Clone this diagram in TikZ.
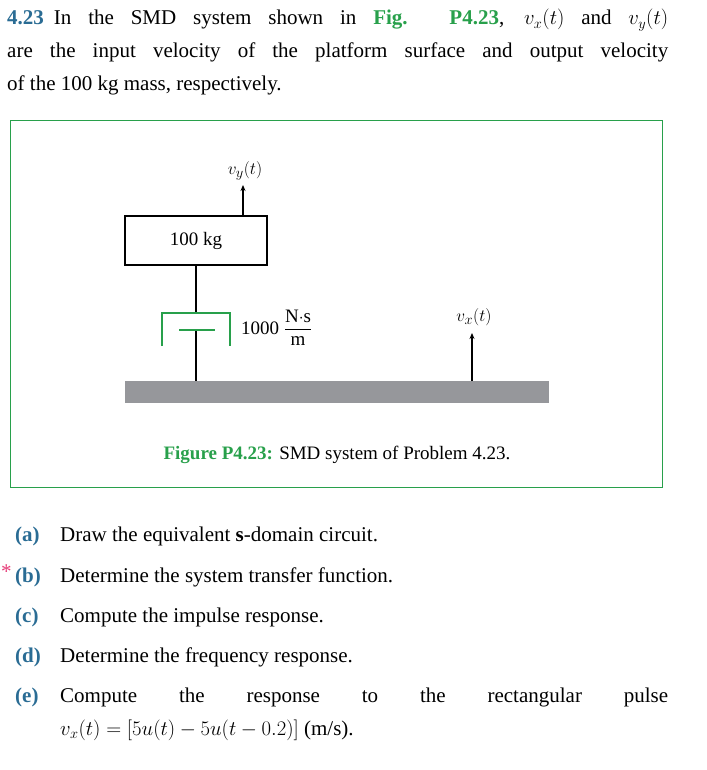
\documentclass[tikz,border=0pt]{standalone}
\usepackage{amsmath}
\usepackage{fontspec}
\setmainfont{Liberation Serif}
\usetikzlibrary{arrows.meta}
\definecolor{lbl}{RGB}{42,108,148}
\definecolor{fig}{RGB}{40,160,75}
\definecolor{pink}{RGB}{230,60,120}
\definecolor{plat}{RGB}{150,151,155}
\begin{document}
\begin{tikzpicture}[x=1pt,y=-1pt,
  txt/.style={anchor=base west,inner sep=0,font=\fontsize{21}{25}\selectfont},
  ftxt/.style={inner sep=0,font=\fontsize{19}{23}\selectfont},
  item/.style={anchor=base west,inner sep=0,font=\fontsize{21}{25}\selectfont\bfseries,text=lbl},
  arr/.style={-{Stealth[length=6pt,width=5pt]},line width=1.5pt},
  rod/.style={line width=1.5pt},
  dmp/.style={draw=fig,line width=2pt}]
\useasboundingbox (0,0) rectangle (706,770);
% header
\node[txt] (l1) at (7,25) {\makebox[661pt][s]{\textbf{\color{lbl}4.23}\hspace{10pt}In the SMD system shown in \textbf{\color{fig}Fig. P4.23}, $v_x(t)$ and $v_y(t)$}};
\node[txt] (l2) at (7,58) {\makebox[661pt][s]{are the input velocity of the platform surface and output velocity}};
\node[txt] (l3) at (7,91) {of the 100 kg mass, respectively.};
% frame
\draw[fig,line width=1pt] (10,121) rectangle (662,487);
% mass
\node[draw,line width=1.5pt,minimum width=142pt,minimum height=49pt,inner sep=0,ftxt] (m) at (196,240.5) {100 kg};
% platform
\fill[plat] (125,381) rectangle (549,403);
\coordinate (p1) at (196,381);
\coordinate (p2) at (472,381);
% damper
\coordinate (dtop) at (196,313);
\coordinate (dpis) at (196,330);
\draw[rod] (m.south) -- (dtop);
\draw[rod] (dpis) -- (p1);
\draw[dmp] (162,346) -- (162,313) -- (230,313) -- (230,346);
\draw[dmp] (179,330) -- (215,330);
\node[ftxt,anchor=west] (dl) at (241,328) {1000 $\dfrac{\mathrm{N}{\cdot}\mathrm{s}}{\mathrm{m}}$};
% arrows
\coordinate (vyt) at (243,185);
\draw[arr] (243,216) -- (vyt);
\node[ftxt,anchor=south] (vy) at (245,180) {$v_y(t)$};
\coordinate (vxt) at (472,333);
\draw[arr] (p2) -- (vxt);
\node[ftxt,anchor=south] (vx) at (474,326) {$v_x(t)$};
% caption
\node[ftxt,anchor=base] (cap) at (337,459) {\textbf{\color{fig}Figure P4.23:} SMD system of Problem 4.23.};
% items
\node[item] (ia) at (15,541) {(a)};
\node[txt] at (60,541) {Draw the equivalent \textbf{s}-domain circuit.};
\node[anchor=base west,inner sep=0,text=pink,font=\fontsize{21}{25}\selectfont] (st) at (1,578) {*};
\node[item] (ib) at (15,582) {(b)};
\node[txt] at (60,582) {Determine the system transfer function.};
\node[item] (ic) at (15,622) {(c)};
\node[txt] at (60,622) {Compute the impulse response.};
\node[item] (id) at (15,662) {(d)};
\node[txt] at (60,662) {Determine the frequency response.};
\node[item] (ie) at (15,702) {(e)};
\node[txt] at (60,702) {\makebox[608pt][s]{Compute the response to the rectangular pulse}};
\node[txt] at (60,735) {$v_x(t)=[5u(t)-5u(t-0.2)]$ (m/s).};
\end{tikzpicture}
\end{document}
